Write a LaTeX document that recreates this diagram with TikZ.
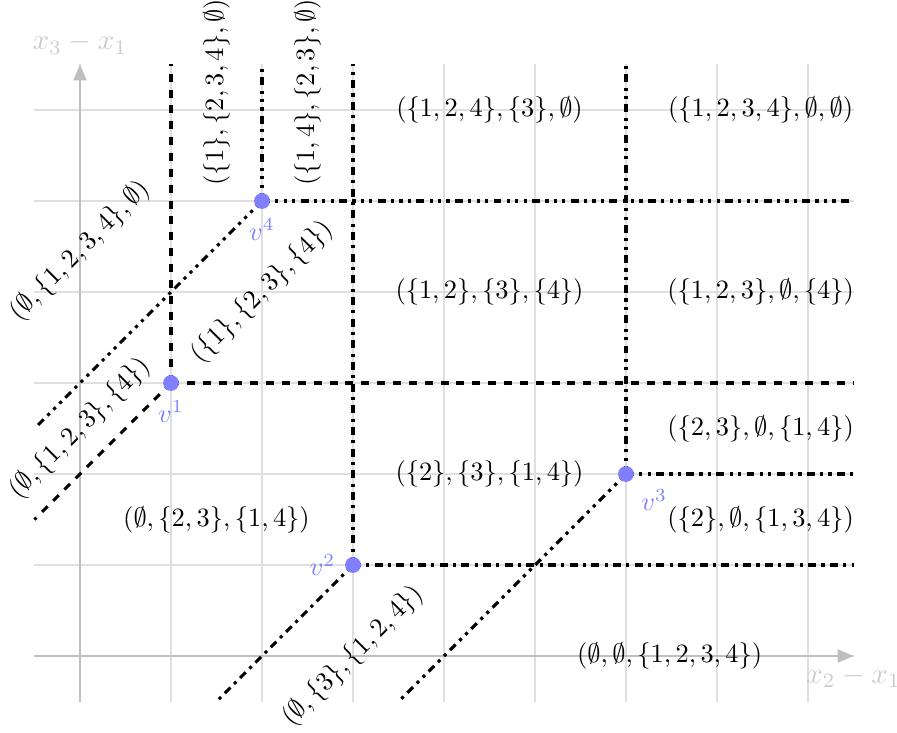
\documentclass[tikz,border=0pt]{standalone}
\usetikzlibrary{arrows.meta}
\begin{document}
\begin{tikzpicture}[x=1.21cm,y=1.21cm,
  gridline/.style={gray!25, line width=0.4pt},
  axisline/.style={gray!50, line width=0.7pt, -{Triangle[length=6pt,width=5pt]}},
  axislabel/.style={text=gray!40, scale=1.1},
  vertexdot/.style={circle, fill=blue!50, inner sep=0pt, minimum size=6pt},
  vlabel/.style={text=blue!50},
  seg/.style={line width=1.2pt},
  dashone/.style={seg, dash pattern=on 3pt off 3pt},
  dashtwo/.style={seg, dash pattern=on 3pt off 2pt on 1.2pt off 2pt},
  dashthree/.style={seg, dash pattern=on 3pt off 2pt on 1.2pt off 2pt on 1.2pt off 2pt},
  dashfour/.style={seg, dash pattern=on 3pt off 2pt on 1.2pt off 2pt on 1.2pt off 2pt on 1.2pt off 2pt},
]
\useasboundingbox (-0.879,-0.835) rectangle (8.978,7.209);

% grid
\draw[gridline, xstep=1.21cm, ystep=1.21cm] (-0.5,-0.5) grid (8.5,6.5);

% axes
\coordinate (xs) at (-0.5,0);
\coordinate (xe) at (8.5,0);
\coordinate (ys) at (0,-0.5);
\coordinate (ye) at (0,6.5);
\draw[axisline] (xs) -- (xe);
\draw[axisline] (ys) -- (ye);
\node[below, axislabel] (xl) at (xe) {$x_2-x_1$};
\node[above, axislabel] (yl) at (ye) {$x_3-x_1$};

% vertex positions and line ends
\coordinate (p1) at (1,3);
\coordinate (p4) at (2,5);
\coordinate (p2) at (3,1);
\coordinate (p3) at (6,2);
\coordinate (p1u) at (1,6.5);
\coordinate (p1r) at (8.5,3);
\coordinate (p1d) at (-0.5,1.5);
\coordinate (p4u) at (2,6.5);
\coordinate (p4r) at (8.5,5);
\coordinate (p4d) at (-0.5,2.5);
\coordinate (p2u) at (3,6.5);
\coordinate (p2r) at (8.5,1);
\coordinate (p2d) at (1.5,-0.5);
\coordinate (p3u) at (6,6.5);
\coordinate (p3r) at (8.5,2);
\coordinate (p3d) at (3.5,-0.5);

\draw[dashone] (p1) -- (p1u);
\draw[dashone] (p1) -- (p1r);
\draw[dashone] (p1) -- (p1d);
\draw[dashfour] (p4) -- (p4u);
\draw[dashfour] (p4) -- (p4r);
\draw[dashfour] (p4) -- (p4d);
\draw[dashtwo] (p2) -- (p2u);
\draw[dashtwo] (p2) -- (p2r);
\draw[dashtwo] (p2) -- (p2d);
\draw[dashthree] (p3) -- (p3u);
\draw[dashthree] (p3) -- (p3r);
\draw[dashthree] (p3) -- (p3d);

% vertices
\node[vertexdot, label={[vlabel]below:$v^1$}] (v1) at (p1) {};
\node[vertexdot, label={[vlabel]below:$v^4$}] (v4) at (p4) {};
\node[vertexdot, label={[vlabel]left:$v^2$}] (v2) at (p2) {};
\node[vertexdot, label={[vlabel]below right:$v^3$}] (v3) at (p3) {};

% region labels
\node[rotate=90] (r1) at (1.5,6.19) {$(\{1\},\{2,3,4\},\emptyset)$};
\node[rotate=90] (r2) at (2.5,6.19) {$(\{1,4\},\{2,3\},\emptyset)$};
\node (r3) at (4.5,6) {$(\{1,2,4\},\{3\},\emptyset)$};
\node (r4) at (7.48,6) {$(\{1,2,3,4\},\emptyset,\emptyset)$};
\node (r5) at (4.5,4) {$(\{1,2\},\{3\},\{4\})$};
\node (r6) at (7.48,4) {$(\{1,2,3\},\emptyset,\{4\})$};
\node (r7) at (7.48,2.5) {$(\{2,3\},\emptyset,\{1,4\})$};
\node (r8) at (4.5,2) {$(\{2\},\{3\},\{1,4\})$};
\node (r9) at (7.48,1.5) {$(\{2\},\emptyset,\{1,3,4\})$};
\node (r10) at (1.5,1.5) {$(\emptyset,\{2,3\},\{1,4\})$};
\node (r11) at (6.48,0) {$(\emptyset,\emptyset,\{1,2,3,4\})$};
\node[rotate=45] (r12) at (3,0) {$(\emptyset,\{3\},\{1,2,4\})$};
\node[rotate=45] (r13) at (0,4.45) {$(\emptyset,\{1,2,3,4\},\emptyset)$};
\node[rotate=45] (r14) at (0,2.5) {$(\emptyset,\{1,2,3\},\{4\})$};
\node[rotate=45] (r15) at (2,4) {$(\{1\},\{2,3\},\{4\})$};
\end{tikzpicture}
\end{document}
